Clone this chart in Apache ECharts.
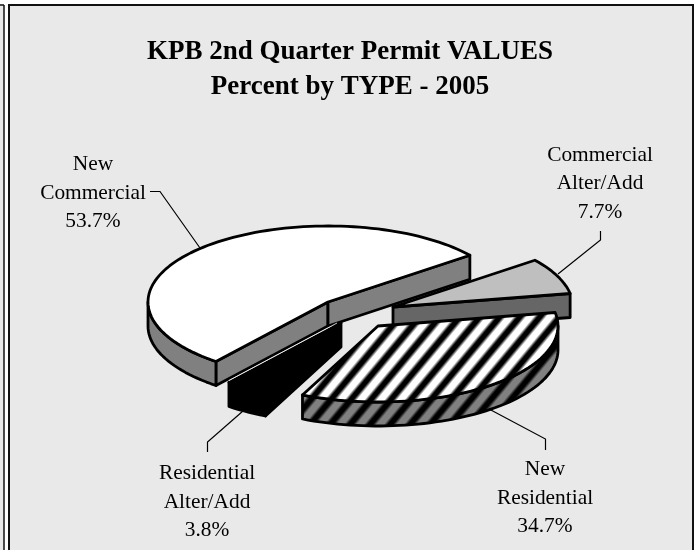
<!DOCTYPE html>
<html>
<head>
<meta charset="utf-8">
<style>html,body{margin:0;padding:0;background:#fff}#c{width:695px;height:550px}</style>
<script src="https://cdn.jsdelivr.net/npm/echarts@6/dist/echarts.min.js"></script>
</head>
<body>
<div id="c"></div>
<script>
var categories = ['New\nCommercial', 'Commercial\nAlter/Add', 'New\nResidential', 'Residential\nAlter/Add'];
var percents = [53.7, 7.7, 34.7, 3.8];
var titleLines = ['KPB 2nd Quarter Permit VALUES', 'Percent by TYPE - 2005'];

var START_ANGLE = 231.5, RX = 180, RY = 76, DEPTH = 24;
var centers = [[328, 302], [393, 307], [378, 326], [341, 323]];
var labelAt = [[93, 193], [600, 183.5], [545, 498], [207, 502]];
var leaders = [
  [[150, 191.5], [160, 191.5], [200, 248]],
  [[600.5, 231], [600.5, 240], [558, 274]],
  [[545.5, 450], [545.5, 439], [489, 409]],
  [[207.5, 452], [207.5, 442], [243, 411]]
];
var layer = [2, 1, 3, 0];

function stripes(light, dark) {
  var W = 20, H = 24, PHASE = 0.35, cv = document.createElement('canvas');
  cv.width = W; cv.height = H;
  var g = cv.getContext('2d'), im = g.createImageData(W, H);
  for (var y = 0; y < H; y++) for (var x = 0; x < W; x++) {
    var t = Math.cos(2 * Math.PI * (x / W + y / H + PHASE));
    var k = Math.max(0, Math.min(1, 0.62 + 0.85 * t));
    var i = (y * W + x) * 4;
    for (var c = 0; c < 3; c++) im.data[i + c] = dark + (light - dark) * k;
    im.data[i + 3] = 255;
  }
  g.putImageData(im, 0, 0);
  return { image: cv, repeat: 'repeat' };
}
var topFill = ['#ffffff', '#bfbfbf', stripes(255, 0), '#000000'];
var sideFill = ['#808080', '#666666', stripes(128, 0), '#000000'];

var total = percents.reduce(function (a, b) { return a + b; }, 0);

function pt(c, deg, dz) {
  var r = deg * Math.PI / 180;
  return [c[0] + RX * Math.cos(r), c[1] - RY * Math.sin(r) + (dz || 0)];
}
function arc(c, a1, a2, dz) {
  var n = Math.max(2, Math.ceil(Math.abs(a1 - a2) / 2)), out = [];
  for (var i = 0; i <= n; i++) out.push(pt(c, a1 + (a2 - a1) * i / n, dz));
  return out;
}

function renderItem(params, api) {
  var i = params.dataIndex, c = centers[i], kids = [];
  var before = 0;
  for (var j = 0; j < i; j++) before += percents[j];
  var a1 = START_ANGLE - before / total * 360;
  var a2 = a1 - api.value(1) / total * 360;
  var z = layer[i] * 10;
  function poly(points, fill, zz) {
    kids.push({ type: 'polygon', z2: zz, shape: { points: points },
      style: { fill: fill, stroke: '#000', lineWidth: 2.8, lineJoin: 'round' } });
  }
  function radial(a) {
    var o = pt(c, a);
    poly([c, o, [o[0], o[1] + DEPTH], [c[0], c[1] + DEPTH]], sideFill[i], z + 1);
  }
  if (Math.cos(a1 * Math.PI / 180) < 0) radial(a1);
  if (Math.cos(a2 * Math.PI / 180) > 0) radial(a2);
  for (var k = -1; k <= 1; k++) {
    var hi = Math.min(a1, k * 360), lo = Math.max(a2, k * 360 - 180);
    if (hi > lo) {
      poly(arc(c, hi, lo).concat(arc(c, lo, hi, DEPTH)), sideFill[i], z + 2);
    }
  }
  poly([c].concat(arc(c, a1, a2)), topFill[i], z + 3);
  if (i === 0) {
    var tip = pt(c, a1, DEPTH);
    kids.push({ type: 'line', z2: z + 4,
      shape: { x1: tip[0] + 13, y1: tip[1] - 5, x2: c[0] + 9, y2: c[1] + DEPTH - 3 },
      style: { stroke: '#ffffff', lineWidth: 0.8 } });
  }
  kids.push({ type: 'polyline', z2: 60, shape: { points: leaders[i] },
    style: { fill: 'none', stroke: '#000', lineWidth: 1.2 } });
  kids.push({ type: 'text', z2: 61, x: labelAt[i][0], y: labelAt[i][1],
    style: {
      text: categories[i] + '\n' + api.value(1).toFixed(1) + '%',
      fontFamily: '"Liberation Serif"', fontSize: 21.4, lineHeight: 28.5,
      fill: '#000', align: 'center', verticalAlign: 'middle'
    } });
  return { type: 'group', children: kids };
}

var chart = echarts.init(document.getElementById('c'), null, { renderer: 'canvas', width: 695, height: 550 });
chart.setOption({
  animation: false,
  backgroundColor: '#ffffff',
  title: {
    text: titleLines.join('\n'), left: 345, top: 30, textAlign: 'center',
    textStyle: { fontFamily: '"Liberation Serif"', fontWeight: 'bold', fontSize: 27, lineHeight: 35, color: '#000' }
  },
  graphic: [
    { type: 'rect', z: -10, shape: { x: 0, y: 5, width: 4, height: 545 }, style: { fill: '#e9e9e9' } },
    { type: 'line', z: -9, shape: { x1: 0, y1: 5, x2: 4, y2: 5 }, style: { stroke: '#111', lineWidth: 1.5 } },
    { type: 'line', z: -9, shape: { x1: 4, y1: 5, x2: 4, y2: 550 }, style: { stroke: '#111', lineWidth: 1.5 } },
    { type: 'rect', z: -10, shape: { x: 9, y: 5, width: 684, height: 545 }, style: { fill: '#e9e9e9' } },
    { type: 'polyline', z: -9, shape: { points: [[9, 550], [9, 5], [693, 5], [693, 550]] }, style: { fill: 'none', stroke: '#111', lineWidth: 2 } }
  ],
  series: [{
    type: 'custom',
    coordinateSystem: 'none',
    renderItem: renderItem,
    silent: true,
    data: percents.map(function (v, i) { return [i, v]; })
  }]
});
</script>
</body>
</html>
